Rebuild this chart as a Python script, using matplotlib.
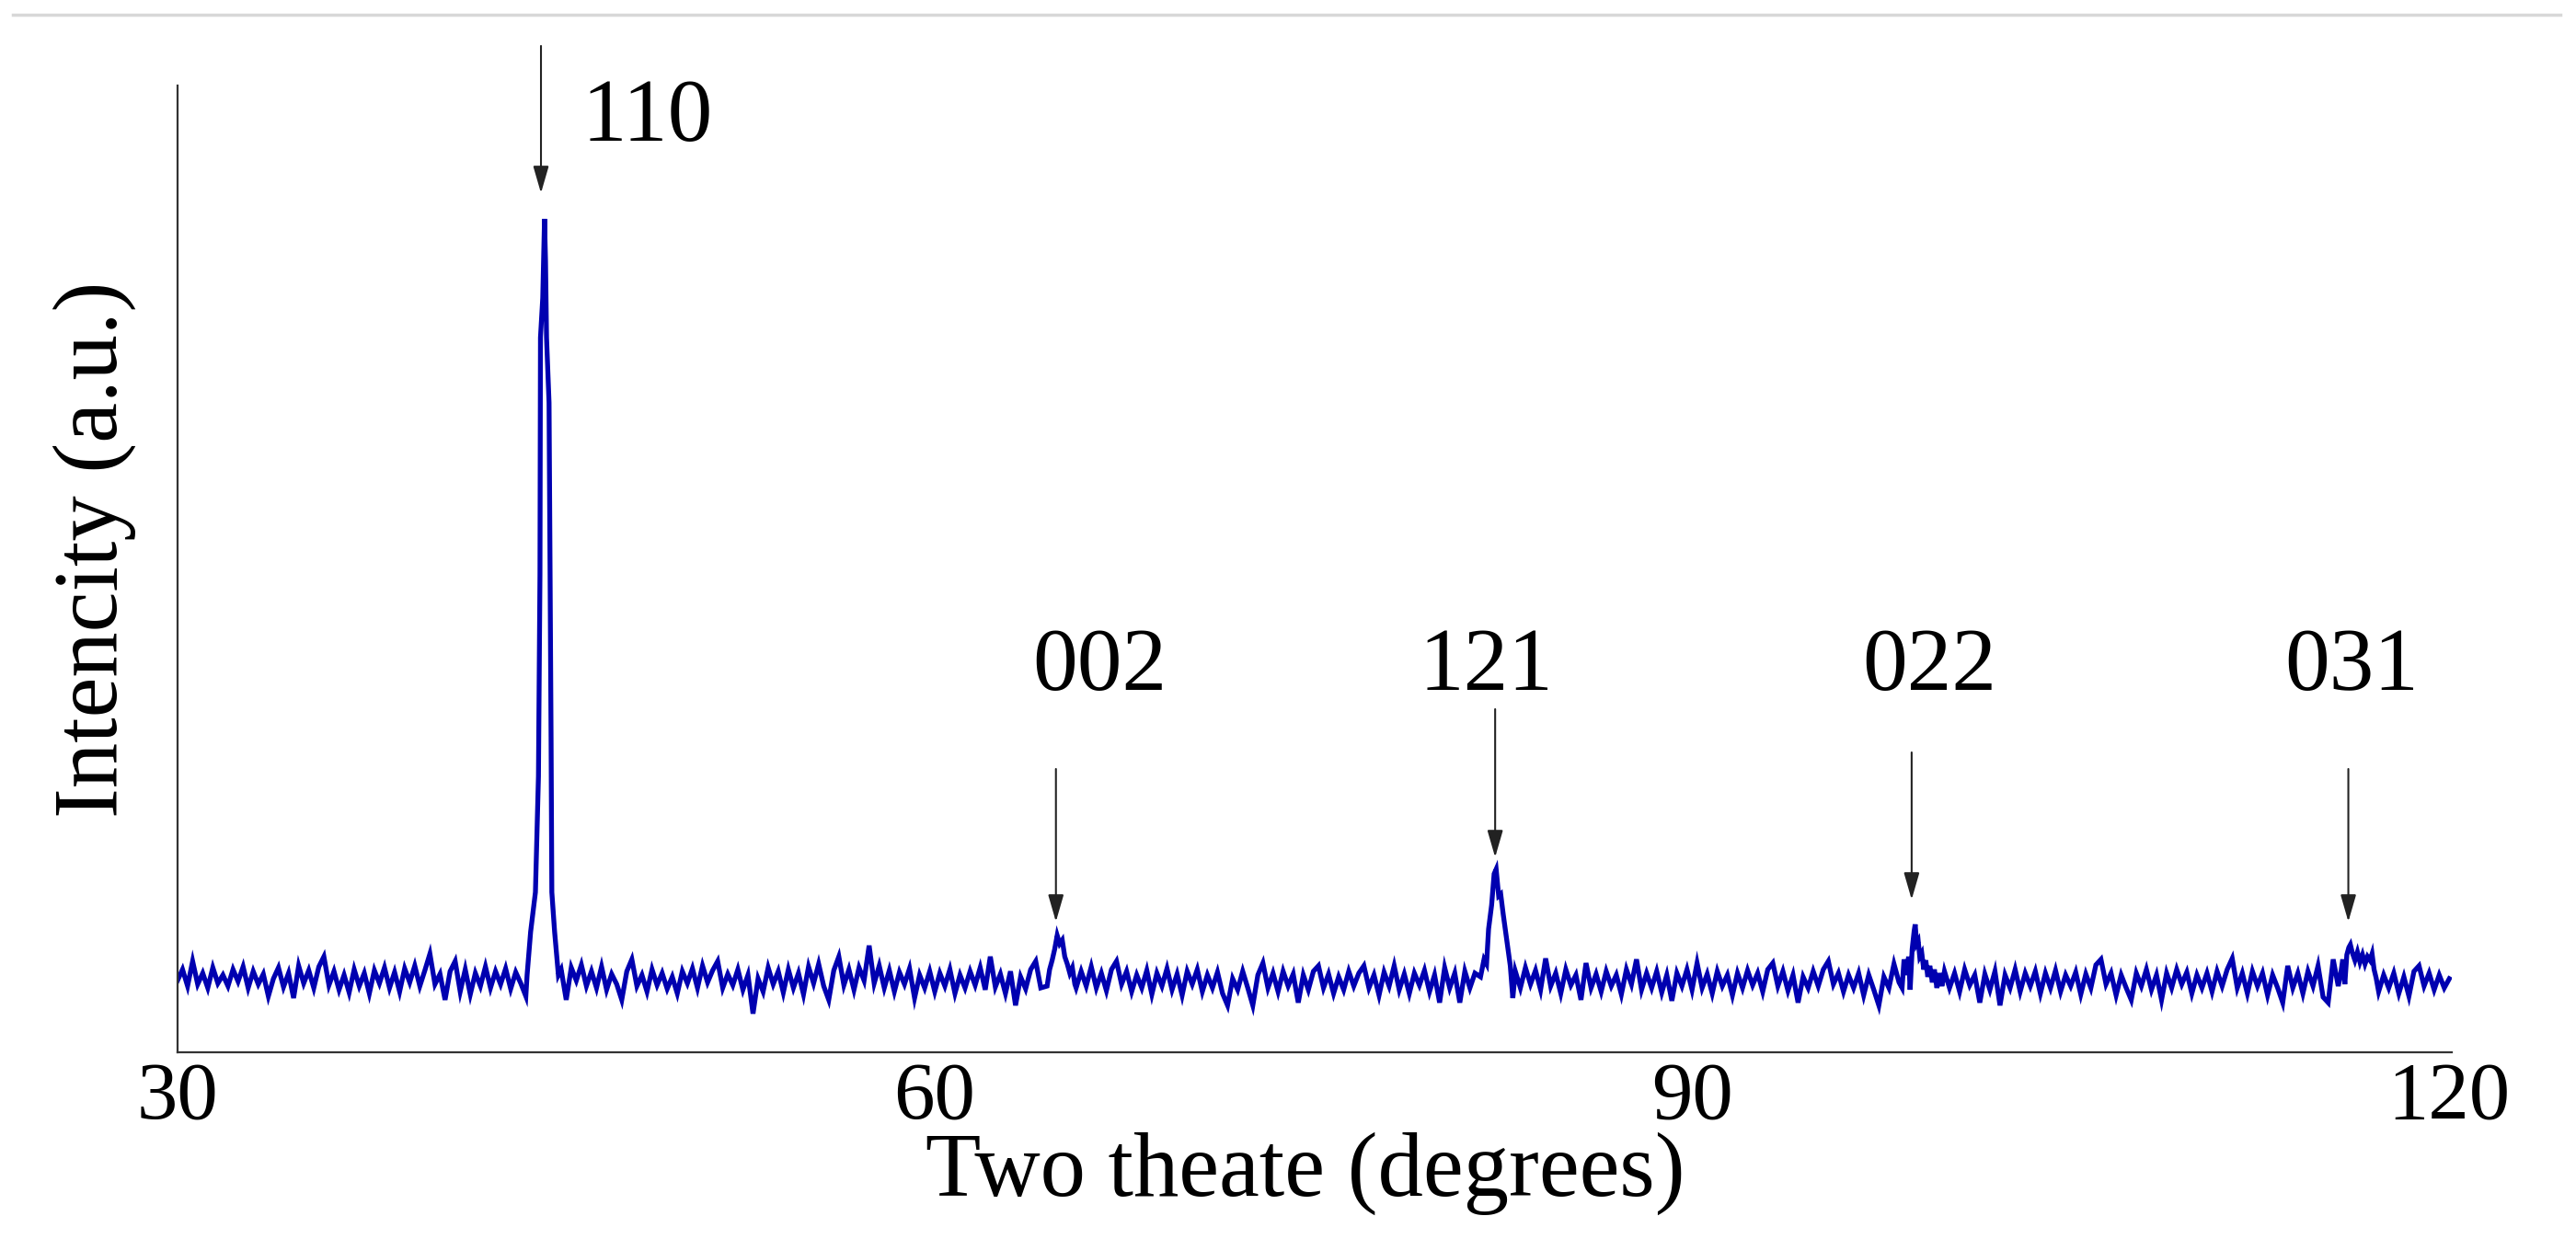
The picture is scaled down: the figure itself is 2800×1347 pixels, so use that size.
import numpy as np
import matplotlib.pyplot as plt
from matplotlib.lines import Line2D

nan = np.nan

# XRD scan: 30..120 deg every 0.2 deg (a.u.)
# nan = point lies inside a peak, see the peak tables below
scan_start = 30.0
scan_step = 0.2
scan = [
    78, 90, 72, 99, 74, 86, 70, 92, 75, 84,       # 30
    72, 90, 77, 93, 70, 88, 74, 85, 61, 80,       # 32
    92, 71, 86, 59, 94, 75, 89, 70, 93, 104,      # 34
    73, 88, 68, 84, 65, 90, 72, 86, 64, 89,       # 36
    75, 92, 70, 87, 66, 91, 76, 94, 72, 89,       # 38
    107, 74, 85, 57, 88, 99, 66, 90, 63, 86,      # 40
    72, 93, 70, 88, 74, 91, 69, 87, 75, 61,       # 42
    nan, nan, nan, nan, nan, nan, 90, 57, 92, 78, # 44
    95, 72, 88, 70, 93, 68, 85, 74, 57, 88,       # 46
    101, 72, 84, 66, 90, 73, 86, 69, 82, 64,      # 48
    88, 75, 91, 70, 94, 76, 89, 99, 70, 85,       # 50
    73, 90, 68, 84, 42, 80, 66, 92, 74, 88,       # 52
    65, 90, 70, 86, 63, 93, 75, 96, 72, 57,       # 54
    89, 104, 73, 90, 68, 92, 78, 116, 75, 94,     # 56
    70, 89, 66, 87, 74, 91, 59, 84, 70, 88,       # 58
    66, 86, 72, 90, 64, 84, 70, 88, 73, 92,       # 60
    68, 104, 71, 85, 64, 88, 51, 82, 69, 90,      # 62
    99, 70, nan, nan, nan, nan, nan, nan, 70, 88, # 64
    72, 93, 70, 86, 67, 90, 99, 74, 88, 66,       # 66
    84, 70, 89, 63, 86, 72, 91, 68, 85, 62,       # 68
    88, 74, 90, 66, 84, 70, 87, 64, 51, 80,       # 70
    68, 88, 70, 51, 84, 97, 70, 86, 66, 88,       # 72
    72, 85, 54, 84, 68, 88, 94, 70, 85, 64,       # 74
    82, 68, 88, 72, 86, 94, 70, 84, 62, 87,       # 76
    72, 94, 68, 85, 64, 86, 73, 89, 66, 84,       # 78
    54, 92, 70, 86, 54, 88, 70, 86, nan, nan,     # 80
    nan, nan, nan, nan, nan, 88, 70, 92, 74, 89,  # 82
    68, 102, 72, 86, 64, 90, 73, 84, 57, 97,      # 84
    70, 85, 66, 88, 72, 84, 63, 90, 74, 101,      # 86
    68, 86, 70, 88, 65, 84, 56, 86, 72, 90,       # 88
    68, 97, 70, 85, 64, 88, 72, 84, 62, 86,       # 90
    70, 89, 73, 86, 66, 90, 97, 72, 88, 67,       # 92
    84, 54, 82, 70, 88, 72, 90, 99, 74, 86,       # 94
    66, 84, 70, 86, 62, 84, 68, 51, 82, 70,       # 96
    96, 76, nan, nan, nan, nan, nan, nan, nan, nan,  # 98
    88, 70, 86, 66, 90, 73, 84, 54, 85, 68,       # 100
    88, 51, 84, 70, 90, 66, 86, 72, 88, 64,       # 102
    86, 70, 89, 66, 84, 72, 87, 63, 85, 70,       # 104
    95, 101, 74, 86, 62, 84, 70, 57, 86, 72,      # 106
    90, 68, 84, 57, 86, 70, 90, 74, 87, 64,       # 108
    84, 70, 86, 66, 88, 72, 90, 102, 70, 86,      # 110
    64, 88, 72, 86, 62, 84, 70, 54, 94, 70,       # 112
    86, 64, 88, 72, 94, 60, 54, 101, 72, nan,     # 114
    nan, nan, nan, nan, nan, nan, 66, 84, 70, 86, # 116
    64, 82, 61, 88, 94, 72, 86, 68, 84, 70,       # 118
    80,                                           # 120
]

# peak profiles (two theta, intensity)
p110_x = [43.85, 43.99, 44.18, 44.30, 44.36, 44.38, 44.47, 44.54,
          44.58, 44.62, 44.72, 44.76, 44.80, 44.83, 44.94, 45.09]
p110_y = [84, 131, 174, 300, 520, 777, 820, 906,
          860, 777, 706, 524, 341, 174, 131, 84]

p002_x = [64.45, 64.55, 64.65, 64.75, 64.85, 64.95, 65.05, 65.15,
          65.25, 65.35, 65.45, 65.55]
p002_y = [72, 90, 100, 112, 127, 118, 122, 104, 96, 86, 92, 74]

p121_x = [81.62, 81.76, 81.86, 81.94, 82.06, 82.16, 82.24, 82.34,
          82.42, 82.52, 82.62, 82.72, 82.80, 82.90, 82.98]
p121_y = [82, 101, 96, 134, 160, 194, 199, 170,
          172, 150, 130, 110, 94, 59, 82]

p022_x = [98.32, 98.40, 98.50, 98.58, 98.64, 98.72, 98.80, 98.84,
          98.90, 98.96, 99.02, 99.10, 99.18, 99.26, 99.34, 99.42,
          99.52, 99.60, 99.70, 99.80, 99.90]
p022_y = [70, 101, 84, 104, 68, 112, 132, 139,
          118, 121, 104, 108, 90, 100, 82, 94,
          76, 90, 70, 86, 72]

p031_x = [115.70, 115.78, 115.86, 115.94, 116.02, 116.08, 116.16, 116.26,
          116.36, 116.46, 116.56, 116.66, 116.76, 116.86, 116.94, 117.02,
          117.10]
p031_y = [86, 101, 74, 106, 114, 117, 108, 100,
          109, 98, 106, 96, 104, 100, 107, 90,
          81]

peak_labels = ['110', '002', '121', '022', '031']
peak_angles = [44.4, 64.8, 82.2, 98.7, 116.0]

# ---- assemble the trace
scan = np.array(scan, dtype=float)
scan_x = scan_start + scan_step * np.arange(len(scan))
keep = ~np.isnan(scan)
x = np.concatenate([scan_x[keep], p110_x, p002_x, p121_x, p022_x, p031_x])
y = np.concatenate([scan[keep], p110_y, p002_y, p121_y, p022_y, p031_y])
order = np.argsort(x)
x, y = x[order], y[order]

plt.rcParams['font.family'] = ['Liberation Serif', 'DejaVu Serif']

fig = plt.figure(figsize=(28, 13.47), dpi=100)
ax = fig.add_axes([0.0689, 0.1507, 0.8829, 0.7803])

ax.plot(x, y, color='#0000b0', lw=3.8, solid_joinstyle='miter')

ax.set_xlim(30, 120.1)
ax.set_ylim(0, 1051)
ax.set_xticks([30, 60, 90, 120])
ax.set_yticks([])
ax.tick_params(axis='x', length=0, pad=7, labelsize=64)
for side in ['top', 'right']:
    ax.spines[side].set_visible(False)
for side in ['left', 'bottom']:
    ax.spines[side].set_color('#333333')
    ax.spines[side].set_linewidth(1.6)

ax.set_xlabel('Two theate (degrees)', fontsize=71)
ax.xaxis.label.set_va('baseline')
ax.xaxis.set_label_coords(0.496, -0.1485)
ax.set_ylabel('Intencity (a.u.)', fontsize=71)
ax.yaxis.set_label_coords(-0.018, 0.52)

# arrows and hkl labels
arrow_tip = [934, 142, 212, 166, 142]
arrow_tail = [1094, 308, 373, 326, 308]
label_pos = [(46.03, 991, 'left'), (66.55, 394, 'center'), (81.86, 394, 'center'),
             (99.42, 394, 'center'), (116.15, 394, 'center')]
for lab, ang, tip, tail, (lx, ly, ha) in zip(peak_labels, peak_angles, arrow_tip,
                                             arrow_tail, label_pos):
    ax.annotate('', xy=(ang, tip), xytext=(ang, tail), annotation_clip=False,
                arrowprops=dict(arrowstyle='-|>,head_length=0.45,head_width=0.13',
                                mutation_scale=40, color='#222222', lw=1.5,
                                shrinkA=0, shrinkB=0))
    ax.text(lx, ly, lab, fontsize=70, ha=ha, va='baseline', clip_on=False)

# thin grey rule along the top of the page
fig.add_artist(Line2D([0.005, 0.994], [0.988, 0.988], transform=fig.transFigure,
                      color='#d8d8d8', lw=2.5))

fig.savefig('out.png', dpi=100)
